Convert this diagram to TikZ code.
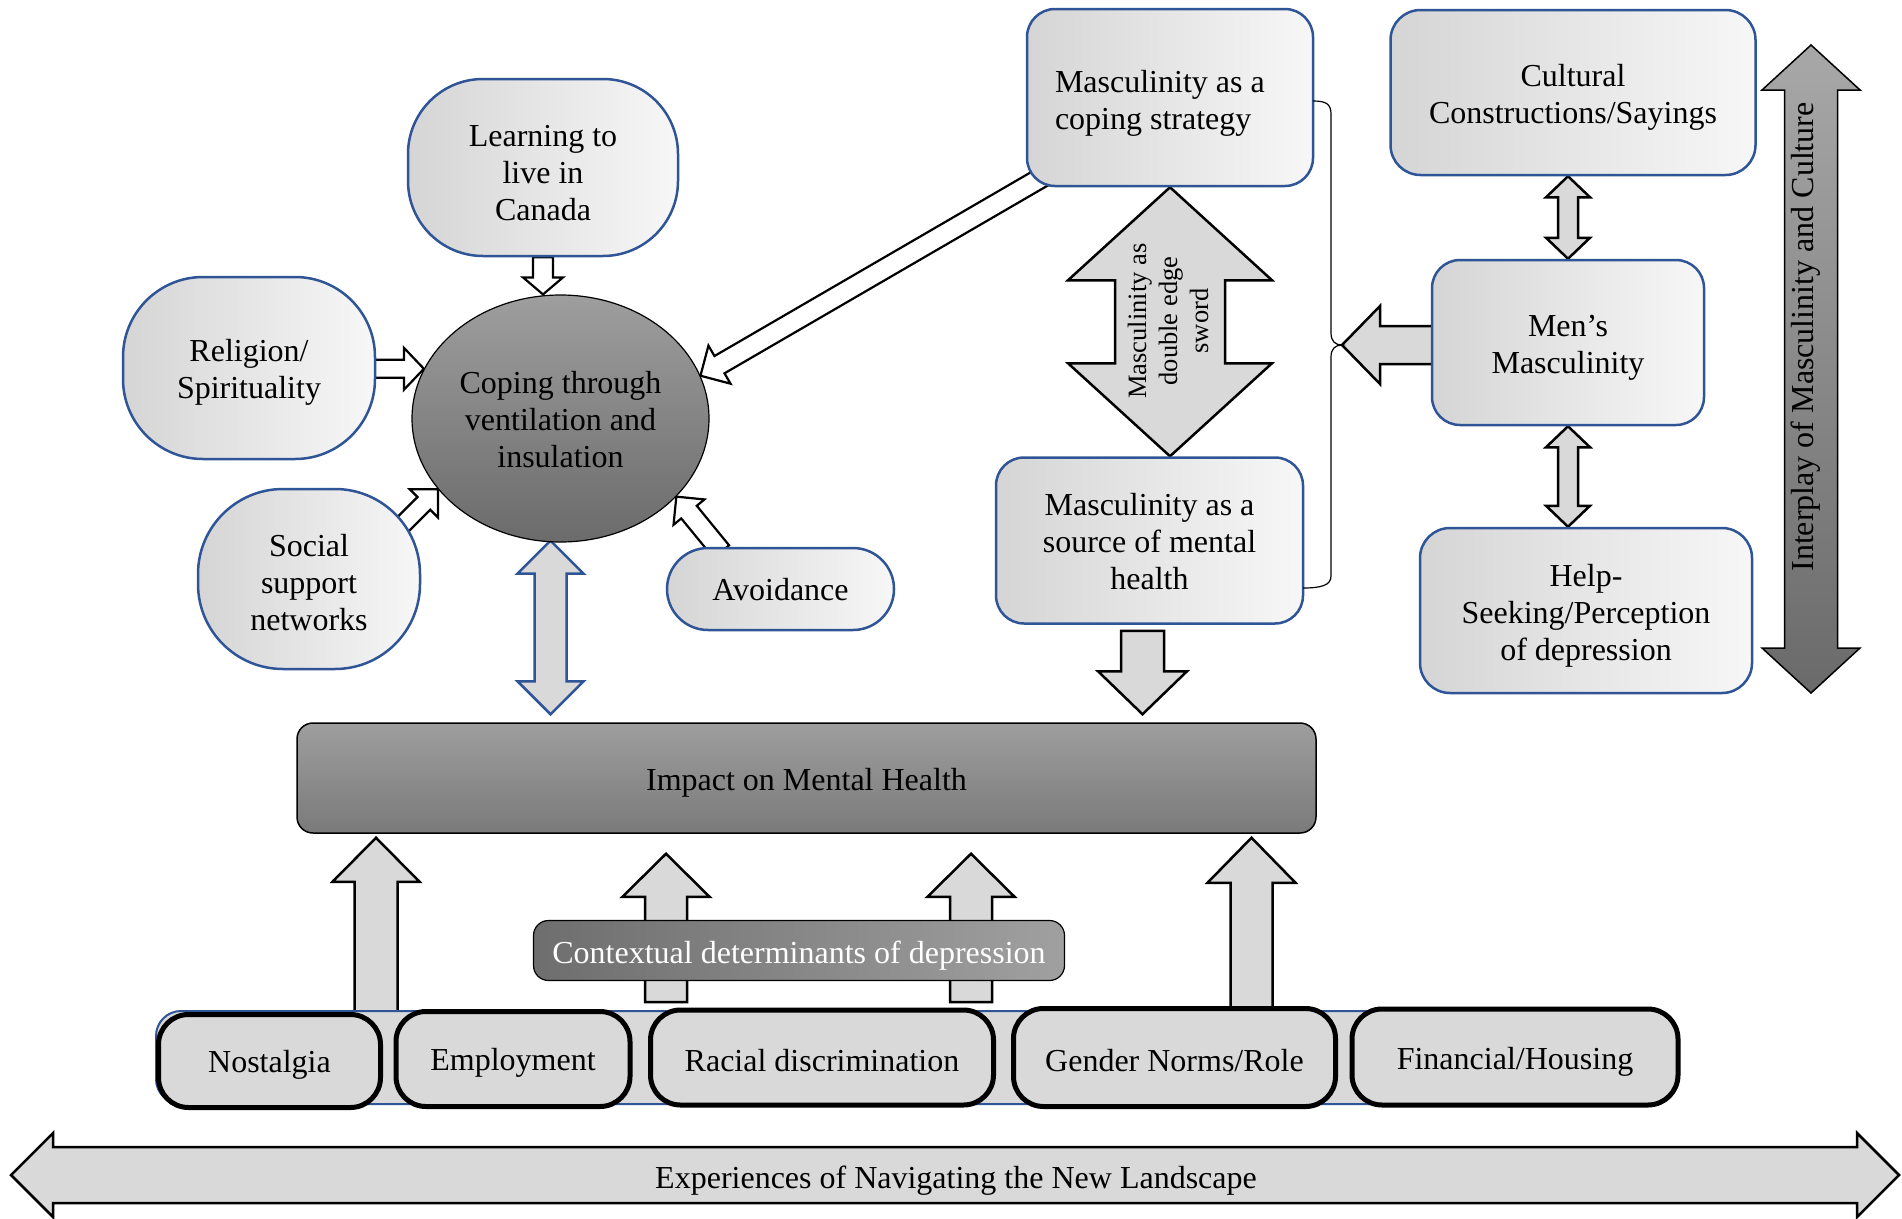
\documentclass[tikz,border=0pt]{standalone}
\usepackage{fontspec}
\setmainfont{Liberation Serif}
\usetikzlibrary{calc,shapes.geometric}
\definecolor{nblue}{HTML}{2F5597}
\definecolor{lgray}{HTML}{D9D9D9}
\definecolor{softL}{HTML}{D5D5D5}
\definecolor{softR}{HTML}{F7F7F7}
\definecolor{copT}{HTML}{9E9E9E}
\definecolor{copB}{HTML}{6B6B6B}
\definecolor{impT}{HTML}{9E9E9E}
\definecolor{impB}{HTML}{7A7A7A}
\definecolor{ctxL}{HTML}{6E6E6E}
\definecolor{ctxR}{HTML}{A0A0A0}
\definecolor{intT}{HTML}{A8A8A8}
\definecolor{intB}{HTML}{6A6A6A}
\pgfdeclarelayer{bg}
\pgfsetlayers{bg,main}
% single block arrow: #1 tail, #2 tip, #3 half shaft, #4 half head, #5 head length, #6 style
\newcommand{\barrow}[6]{%
 \path ($(#2)!#5!(#1)$) coordinate (bh);
 \draw[#6] ($(#1)!#3!90:(#2)$) -- ($(bh)!#3!90:(#2)$) -- ($(bh)!#4!90:(#2)$) -- (#2) -- ($(bh)!#4!-90:(#2)$) -- ($(bh)!#3!-90:(#2)$) -- ($(#1)!#3!-90:(#2)$) -- cycle;}
% double block arrow
\newcommand{\dbarrow}[6]{%
 \path ($(#1)!#5!(#2)$) coordinate (ha) ($(#2)!#5!(#1)$) coordinate (hb);
 \draw[#6] (#1) -- ($(ha)!#4!90:(#2)$) -- ($(ha)!#3!90:(#2)$) -- ($(hb)!#3!-90:(#1)$) -- ($(hb)!#4!-90:(#1)$) -- (#2) -- ($(hb)!#4!90:(#1)$) -- ($(hb)!#3!90:(#1)$) -- ($(ha)!#3!-90:(#2)$) -- ($(ha)!#4!-90:(#2)$) -- cycle;}
\begin{document}
\begin{tikzpicture}[x=1pt,y=-1pt,line join=miter,
  base/.style={font=\fontsize{32pt}{37pt}\selectfont, align=center, inner sep=0pt},
  lbl/.style={base, yshift=-#1},
  softbox/.style={inner sep=0pt, draw=nblue, line width=2.5pt, left color=softL, right color=softR},
  pill/.style={inner sep=0pt, draw=black, line width=5pt, fill=lgray, rounded corners=30pt},
  openarr/.style={draw=black, line width=2.2pt, fill=white},
  grayarr/.style={draw=black, line width=2.5pt, fill=lgray},
  bluearr/.style={draw=nblue, line width=2.5pt, fill=lgray},
  darkarr/.style={draw=black, line width=1.5pt, top color=intT, bottom color=intB},
]
\useasboundingbox (0,0) rectangle (1902,1218);

% ---------- nodes ----------
\node[softbox, rounded corners=75pt, minimum width=270pt, minimum height=177pt,
  label={[lbl=6pt]center:{Learning to\\live in\\Canada}}] (learn) at (543,167.5) {};
\node[softbox, rounded corners=80pt, minimum width=252pt, minimum height=182pt,
  label={[lbl=4pt]center:{Religion/\\Spirituality}}] (relig) at (249,368) {};
\node[softbox, rounded corners=85pt, minimum width=222pt, minimum height=180pt,
  label={[lbl=4pt]center:{Social\\support\\networks}}] (social) at (309,579) {};
\node[ellipse, inner sep=0pt, draw=black, line width=1.2pt, top color=copT, bottom color=copB, minimum width=297pt, minimum height=247pt,
  label={[lbl=1pt]center:{Coping through\\ventilation and\\insulation}}] (coping) at (560.5,418.5) {};
\node[softbox, rounded corners=41pt, minimum width=227pt, minimum height=82pt,
  label={[lbl=1pt]center:{Avoidance}}] (avoid) at (780.5,589) {};
\node[softbox, rounded corners=28pt, minimum width=286pt, minimum height=177pt,
  label={[lbl=6pt, align=flush left, text width=230pt]center:{Masculinity as a\\coping strategy}}] (masccope) at (1170,97.5) {};
\node[softbox, rounded corners=28pt, minimum width=307pt, minimum height=166pt,
  label={[lbl=1pt]center:{Masculinity as a\\source of mental\\health}}] (mascsrc) at (1149.5,540.5) {};
\node[softbox, rounded corners=30pt, minimum width=365pt, minimum height=165pt,
  label={[lbl=5pt]center:{Cultural\\Constructions/Sayings}}] (cultural) at (1573,92.5) {};
\node[softbox, rounded corners=28pt, minimum width=272pt, minimum height=165pt,
  label={[lbl=5pt]center:{Men’s\\Masculinity}}] (mens) at (1568,342.5) {};
\node[softbox, rounded corners=30pt, minimum width=332pt, minimum height=165pt,
  label={[lbl=5pt]center:{Help-\\Seeking/Perception\\of depression}}] (help) at (1586,610.5) {};
\node[inner sep=0pt, draw=black, line width=1.5pt, top color=impT, bottom color=impB, rounded corners=16pt, minimum width=1019pt, minimum height=110pt,
  label={[lbl=5pt]center:{Impact on Mental Health}}] (impact) at (806.5,778) {};
\node[inner sep=0pt, draw=black, line width=1.2pt, left color=ctxL, right color=ctxR, rounded corners=15pt, minimum width=531pt, minimum height=60pt,
  label={[lbl=5pt, text=white]center:{Contextual determinants of depression}}] (ctx) at (799,950.5) {};
\node[draw=nblue, line width=2pt, fill=lgray, rounded corners=25pt, minimum width=1517pt, minimum height=93pt, inner sep=0pt] (strip) at (914.5,1057.5) {};
\node[pill, minimum width=222pt, minimum height=93pt, label={[lbl=4pt]center:{Nostalgia}}] (nost) at (269.5,1061) {};
\node[pill, minimum width=234pt, minimum height=95pt, label={[lbl=4pt]center:{Employment}}] (employ) at (513,1059) {};
\node[pill, minimum width=343pt, minimum height=95pt, label={[lbl=3pt]center:{Racial discrimination}}] (racial) at (822,1057.5) {};
\node[pill, minimum width=322pt, minimum height=98pt, label={[lbl=3pt]center:{Gender Norms/Role}}] (gender) at (1174.5,1057.5) {};
\node[pill, minimum width=326pt, minimum height=96pt, label={[lbl=5pt]center:{Financial/Housing}}] (finance) at (1515,1057) {};

% ---------- bracket ----------
\coordinate (brtip) at (1342,345);
\draw[line width=1.2pt] (1313,101) .. controls (1326,101) and (1331,104) .. (1331,114) -- (1331,333) .. controls (1331,341) and (1335,345) .. (brtip) .. controls (1335,345) and (1331,349) .. (1331,357) -- (1331,576) .. controls (1331,585) and (1322,588) .. (1303,588);

% ---------- connector coordinates ----------
\coordinate (la1) at (learn.south);
\coordinate (la2) at (learn.south |- coping.north);
\coordinate (ra2) at (coping.160);
\path (relig.east |- ra2) ++(-5,0) coordinate (ra1);
\coordinate (sa2) at (coping.210);
\path (sa2) ++(-50,50) coordinate (sa1);
\coordinate (va2) at (coping.326);
\path (va2) ++(45,55) coordinate (va1);
\coordinate (ma2) at (coping.17);
\path (masccope.south west) ++(25,-15) coordinate (ma1);
\path (coping.south) ++(-10,-2) coordinate (ca1);
\path (coping.south |- impact.north) ++(-10,-8) coordinate (ca2);
\coordinate (sw1) at (masccope.south);
\coordinate (sw2) at (masccope.south |- mascsrc.north);
\path (mens.west |- brtip) ++(5,0) coordinate (mb1);
\coordinate (cm1) at (mens.north |- cultural.south);
\coordinate (cm2) at (mens.north);
\coordinate (mh1) at (mens.south);
\coordinate (mh2) at (mens.south |- help.north);
\path (mascsrc.south) ++(-7,6) coordinate (si1);
\path (mascsrc.south |- impact.north) ++(-7,-8) coordinate (si2);
\path (impact.south) ++(-430.5,4) coordinate (u1t);
\path (u1t |- nost.north) ++(0,10) coordinate (u1b);
\path (impact.south) ++(-140.5,20) coordinate (u2t);
\path (u2t |- ctx.south) ++(0,21) coordinate (u2b);
\path (impact.south) ++(164.5,20) coordinate (u3t);
\path (u3t |- ctx.south) ++(0,21) coordinate (u3b);
\path (impact.south) ++(445,4) coordinate (u4t);
\path (u4t |- gender.north) ++(0,10) coordinate (u4b);
\coordinate (e1) at (11,1175);
\coordinate (e2) at (1899,1175);
\coordinate (i1) at (1811,45);
\coordinate (i2) at (1811,693);

% ---------- block arrows ----------
\begin{pgfonlayer}{bg}
\barrow{la1}{la2}{10pt}{20pt}{17pt}{openarr}
\barrow{ra1}{ra2}{9pt}{21pt}{20pt}{openarr}
\barrow{sa1}{sa2}{9pt}{20pt}{20pt}{openarr}
\barrow{va1}{va2}{10pt}{20pt}{20pt}{openarr}
\barrow{ma1}{ma2}{10pt}{22pt}{22pt}{openarr}
\dbarrow{ca1}{ca2}{16pt}{33pt}{33pt}{bluearr}
\dbarrow{sw1}{sw2}{55pt}{102pt}{93pt}{grayarr}
\barrow{mb1}{brtip}{19pt}{39pt}{38pt}{grayarr}
\dbarrow{cm1}{cm2}{10pt}{22pt}{21pt}{grayarr}
\dbarrow{mh1}{mh2}{10pt}{22pt}{21pt}{grayarr}
\barrow{si1}{si2}{21.5pt}{44.5pt}{43pt}{grayarr}
\barrow{u1b}{u1t}{21.5pt}{43.5pt}{44pt}{grayarr}
\barrow{u2b}{u2t}{21pt}{43.5pt}{43pt}{grayarr}
\barrow{u3b}{u3t}{21pt}{43.5pt}{43pt}{grayarr}
\barrow{u4b}{u4t}{21pt}{44pt}{45pt}{grayarr}
\dbarrow{e1}{e2}{28pt}{42pt}{42pt}{grayarr}
\dbarrow{i1}{i2}{26.5pt}{49pt}{45pt}{darkarr}
\end{pgfonlayer}

% ---------- texts on arrows ----------
\node[base, rotate=90, font=\fontsize{26.5pt}{31pt}\selectfont] (sword) at (1168,321) {Masculinity as\\double edge\\sword};
\node[base, rotate=90] (interp) at (1806,337) {Interplay of Masculinity and Culture};
\node[base] (exptxt) at (956,1181) {Experiences of Navigating the New Landscape};
\end{tikzpicture}
\end{document}
